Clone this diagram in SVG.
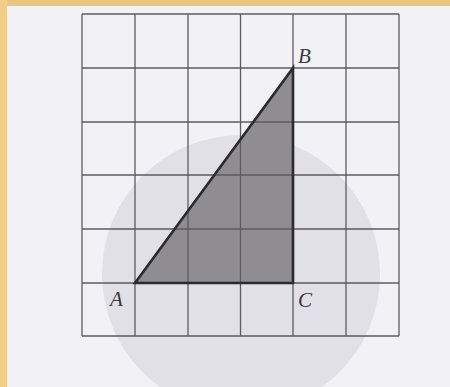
<svg xmlns="http://www.w3.org/2000/svg" width="450" height="387" viewBox="0 0 450 387">
  <style>
    .grid line { stroke: #5c5b60; stroke-width: 1.3; }
    .lbl { font-family: "Liberation Serif", "DejaVu Serif", serif; font-style: italic; font-size: 21px; fill: #3a3a3e; }
  </style>
  <rect x="0" y="0" width="450" height="387" fill="#f2f1f6"/>
  <rect x="0" y="0" width="450" height="6" fill="#eac681"/>
  <rect x="0" y="0" width="7" height="387" fill="#f2cd88"/>
  <g id="circle">
    <circle cx="241" cy="274" r="139" fill="#e2e0e7"/>
  </g>
  <g id="triangle">
    <polygon points="135,283 293,68 293,283" fill="#8f8d91"/>
  </g>
  <g id="grid" class="grid">
    <line x1="82" y1="14" x2="82" y2="336"/>
    <line x1="135" y1="14" x2="135" y2="336"/>
    <line x1="188" y1="14" x2="188" y2="336"/>
    <line x1="240.5" y1="14" x2="240.5" y2="336"/>
    <line x1="293" y1="14" x2="293" y2="336"/>
    <line x1="346" y1="14" x2="346" y2="336"/>
    <line x1="399" y1="14" x2="399" y2="336"/>
    <line x1="82" y1="14" x2="399" y2="14"/>
    <line x1="82" y1="68" x2="399" y2="68"/>
    <line x1="82" y1="122" x2="399" y2="122"/>
    <line x1="82" y1="175" x2="399" y2="175"/>
    <line x1="82" y1="229" x2="399" y2="229"/>
    <line x1="82" y1="283" x2="399" y2="283"/>
    <line x1="82" y1="336" x2="399" y2="336"/>
  </g>
  <g id="edges">
    <polygon points="135,283 293,68 293,283" fill="none" stroke="#2b2a2e" stroke-width="2.6" stroke-linejoin="miter"/>
  </g>
  <g id="labels">
    <text class="lbl" x="298" y="63">B</text>
    <text class="lbl" x="110" y="306">A</text>
    <text class="lbl" x="298" y="307">C</text>
  </g>
</svg>
